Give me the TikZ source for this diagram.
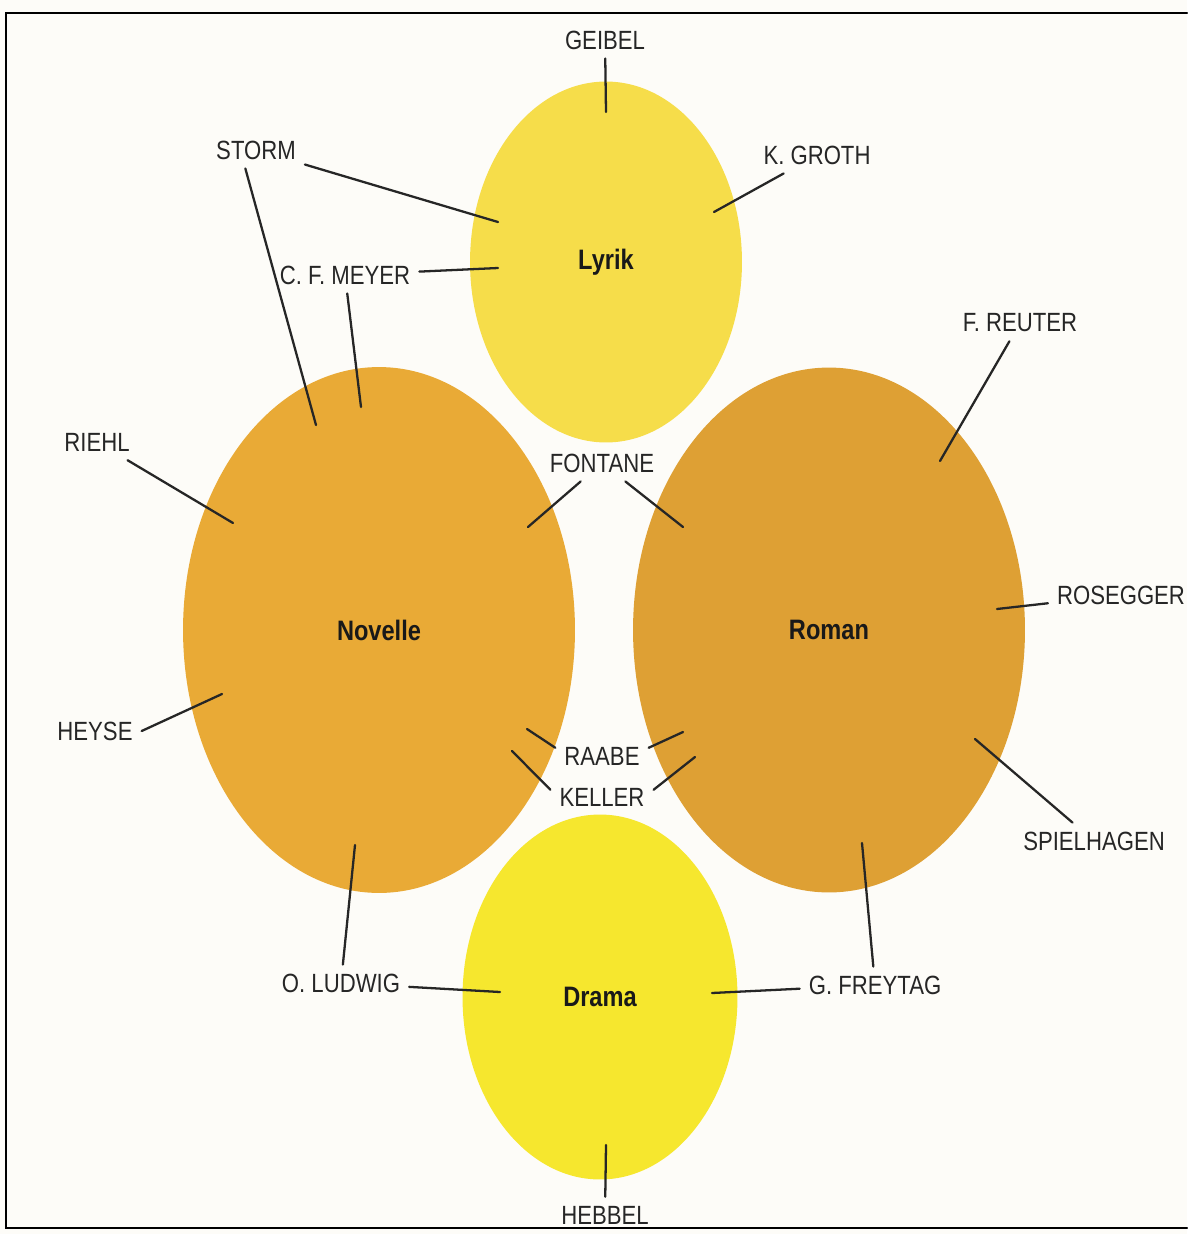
\documentclass[tikz,border=0pt]{standalone}
\usepackage{fontspec}
\setmainfont{Liberation Sans}[FakeStretch=0.84]
\usetikzlibrary{shapes.geometric}
\definecolor{lyrikcol}{HTML}{F6DD4A}
\definecolor{dramacol}{HTML}{F6E72E}
\definecolor{novellecol}{HTML}{E9AA36}
\definecolor{romancol}{HTML}{DEA034}
\definecolor{paper}{HTML}{FDFCF8}
\begin{document}
\begin{tikzpicture}[x=0.02cm,y=-0.02cm,line cap=round,
	genre/.style={ellipse,inner sep=0pt,font=\fontsize{16}{19}\selectfont\bfseries,text=black!90},
	poet/.style={inner sep=5pt,font=\fontsize{15}{18}\selectfont,text=black!85},
	link/.style={line width=1.3pt,draw=black!85}]
		\fill[paper] (0,0) rectangle (1187,1234);
		\useasboundingbox (0,0) rectangle (1187,1234);
		\draw[line width=1.6pt] (1187,13)--(6,13)--(6,1228)--(1187,1228);
		
		% Gattungen
		\node[genre,fill=lyrikcol,minimum width=5.44cm,minimum height=7.22cm] (lyrik) at (606,262){Lyrik};
		\node[genre,fill=novellecol,minimum width=7.84cm,minimum height=10.52cm] (novelle) at (379,630){Novelle};
		\node[genre,fill=romancol,minimum width=7.84cm,minimum height=10.5cm] (roman) at (829,630){Roman};
		\node[genre,fill=dramacol,minimum width=5.5cm,minimum height=7.3cm] (drama) at (600,997){Drama};
		
		% Dichter
		\node[poet] (geibel) at (605,40){GEIBEL};
		\node[poet] (storm) at (256,150){STORM};
		\node[poet] (groth) at (817,155){K. GROTH};
		\node[poet] (meyer) at (345,275){C. F. MEYER};
		\node[poet] (reuter) at (1020,323){F. REUTER};
		\node[poet] (riehl) at (97,442){RIEHL};
		\node[poet] (fontane) at (602,463){FONTANE};
		\node[poet] (rosegger) at (1121,595){ROSEGGER};
		\node[poet] (heyse) at (95,731){HEYSE};
		\node[poet] (raabe) at (602,756){RAABE};
		\node[poet] (keller) at (602,797){KELLER};
		\node[poet] (spielhagen) at (1094,841){SPIELHAGEN};
		\node[poet] (ludwig) at (341,983){O. LUDWIG};
		\node[poet] (freytag) at (875,985){G. FREYTAG};
		\node[poet] (hebbel) at (605,1215){HEBBEL};
		
		\coordinate (ly1) at (606,112);
		\coordinate (ly2) at (498,222);
		\coordinate (ly3) at (714,212);
		\coordinate (ly4) at (498,268);
		\coordinate (no1) at (316,425);
		\coordinate (no2) at (361,407);
		\coordinate (no3) at (233,523);
		\coordinate (no4) at (528,527);
		\coordinate (no5) at (222,694);
		\coordinate (no6) at (527,729);
		\coordinate (no7) at (512,751);
		\coordinate (no8) at (355,845);
		\coordinate (ro1) at (940,461);
		\coordinate (ro2) at (683,527);
		\coordinate (ro3) at (997,609);
		\coordinate (ro4) at (683,732);
		\coordinate (ro5) at (695,757);
		\coordinate (ro6) at (975,739);
		\coordinate (ro7) at (862,843);
		\coordinate (dr1) at (500,992);
		\coordinate (dr2) at (712,993);
		\coordinate (dr3) at (606,1145);
		
		\draw[link] (geibel)--(ly1);
		\draw[link] (storm)--(ly2);
		\draw[link] (storm.-120)--(no1);
		\draw[link] (groth)--(ly3);
		\draw[link] (meyer)--(ly4);
		\draw[link] (meyer)--(no2);
		\draw[link] (reuter)--(ro1);
		\draw[link] (riehl)--(no3);
		\draw[link] (fontane)--(no4);
		\draw[link] (fontane)--(ro2);
		\draw[link] (rosegger)--(ro3);
		\draw[link] (heyse.east)--(no5);
		\draw[link] (raabe.170)--(no6);
		\draw[link] (raabe.10)--(ro4);
		\draw[link] (keller.172)--(no7);
		\draw[link] (keller.8)--(ro5);
		\draw[link] (spielhagen)--(ro6);
		\draw[link] (ludwig)--(no8);
		\draw[link] (ludwig)--(dr1);
		\draw[link] (freytag)--(ro7);
		\draw[link] (freytag)--(dr2);
		\draw[link] (hebbel)--(dr3);
		\end{tikzpicture}
\end{document}
